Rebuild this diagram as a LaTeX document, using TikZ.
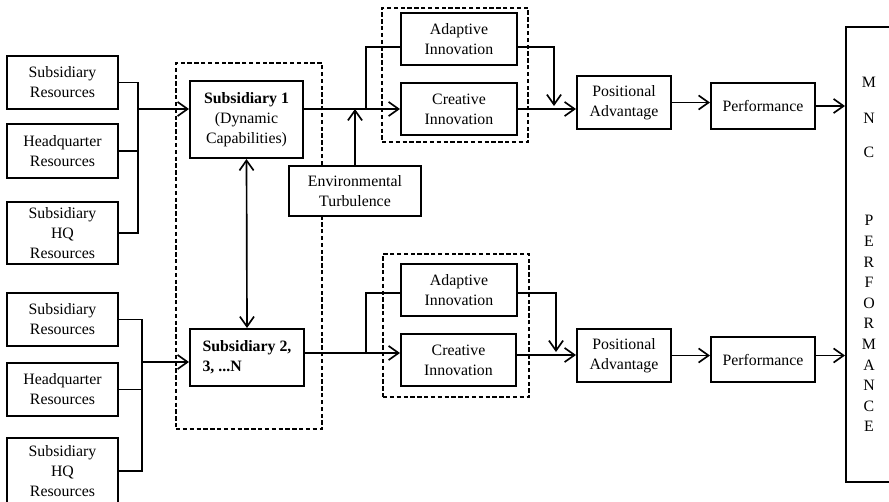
\documentclass[tikz,border=0pt]{standalone}
\usepackage{fontspec}
\setmainfont{Liberation Serif}
\usetikzlibrary{arrows.meta}

% box given by its corners (x1,y1) (x2,y2) in picture units
\newcommand\cornerbox[7][]{%
  \node[#1, minimum width={0.6pt*(#4-#2)}, minimum height={0.6pt*(#5-#3)}]
    (#6) at ({(#2+#4)/2},{(#3+#5)/2}) {#7};}

\tikzset{
  box/.style={draw, fill=white, line width=1.2pt, rectangle, inner sep=1pt, align=center,
    font=\fontsize{9.5}{12}\selectfont},
  grp/.style={draw, line width=0.9pt, dash pattern=on 2.6pt off 1.5pt,
    rectangle, inner sep=0pt},
  link/.style={line width=1pt},
  tip/.tip={Straight Barb[length=6pt,width=8.5pt,line width=1pt]},
  flow/.style={link, -tip},
  both/.style={link, tip-tip},
}

\begin{document}
\begin{tikzpicture}[x=0.6pt, y=-0.6pt]
\useasboundingbox (0,0) rectangle (889,501);
\clip (0,0) rectangle (889,501);

% resource inputs
\cornerbox[box]{7}{56}{118}{109}{sr1}{Subsidiary\\Resources}
\cornerbox[box]{7}{124}{118}{178}{hq1}{Headquarter\\Resources}
\cornerbox[box]{7}{202}{118}{264}{shq1}{Subsidiary\\HQ\\Resources}
\cornerbox[box]{7}{293}{118}{346}{sr2}{Subsidiary\\Resources}
\cornerbox[box]{7}{363}{118}{416}{hq2}{Headquarter\\Resources}
\cornerbox[box]{7}{438}{118}{504}{shq2}{Subsidiary\\HQ\\Resources}

% subsidiaries
\cornerbox[grp]{176}{63}{322}{429}{subgrp}{}
\cornerbox[box]{190}{81}{303}{158}{sub1}{\textbf{Subsidiary 1}\\(Dynamic\\Capabilities)}
\cornerbox[box, align=left]{190}{329}{304}{386}{sub2}{\textbf{Subsidiary 2,}\\\textbf{3, ...N}}
\cornerbox[box]{289}{166}{421}{216}{env}{Environmental\\Turbulence}

% innovation
\cornerbox[grp]{382}{8}{528}{142}{inngrp1}{}
\cornerbox[box]{401}{13}{517}{65}{ada1}{Adaptive\\Innovation}
\cornerbox[box]{401}{83}{517}{135}{cre1}{Creative\\Innovation}
\cornerbox[grp]{383}{254}{529}{397}{inngrp2}{}
\cornerbox[box]{401}{264}{517}{316}{ada2}{Adaptive\\Innovation}
\cornerbox[box]{401}{334}{516}{386}{cre2}{Creative\\Innovation}

% outcomes
\cornerbox[box]{577}{76}{671}{129}{pa1}{Positional\\Advantage}
\cornerbox[box]{711}{83}{815}{129}{perf1}{Performance}
\cornerbox[box]{577}{329}{671}{382}{pa2}{Positional\\Advantage}
\cornerbox[box]{711}{337}{815}{382}{perf2}{Performance}
\cornerbox[box, font=\fontsize{9.5}{12.36}\selectfont]{846}{27}{892}{482}{mnc}%
  {M\\[9.5pt]N\\[8pt]C\\[28.5pt]P\\E\\R\\F\\O\\R\\M\\A\\N\\C\\E}

% junctions
\coordinate (j1) at (138,109);
\coordinate (j2) at (142,362);
\coordinate (m1) at (366,109);
\coordinate (a1) at (366,47);
\coordinate (t1) at (554,47);
\coordinate (d1) at (554,106);
\coordinate (m2) at (366,353);
\coordinate (a2) at (366,293);
\coordinate (t2) at (556,293);
\coordinate (d2) at (556,352);
\coordinate (c2) at (540,355);

% resources into subsidiaries
\draw[link] (sr1.east) -| (j1);
\draw[link] (hq1.east) -| (j1);
\draw[link] (shq1.east) -| (j1);
\draw[flow] (j1) -- (j1 -| sub1.west);
\draw[link] (sr2.east) -| (j2);
\draw[link] (hq2.east) -| (j2);
\draw[link] (shq2.east) -| (j2);
\draw[flow] (j2) -- (j2 -| sub2.west);
\draw[both] (sub1.south) -- (sub2.north);

% upper chain
\draw[link] (m1 -| sub1.east) -- (m1);
\draw[flow] (m1) -- (m1 -| cre1.west);
\draw[link] (m1) -- (a1) -- (a1 -| ada1.west);
\draw[flow] (env.north) -- (env.north |- m1);
\draw[flow] (t1 -| ada1.east) -- (t1) -- (d1);
\draw[flow] (cre1.east) -- (cre1.east -| pa1.west);
\draw[flow] (pa1.east) -- (pa1.east -| perf1.west);
\draw[flow] (perf1.east) -- (perf1.east -| mnc.west);

% lower chain
\draw[link] (m2 -| sub2.east) -- (m2);
\draw[flow] (m2) -- (m2 -| cre2.west);
\draw[link] (m2) -- (a2) -- (a2 -| ada2.west);
\draw[flow] (t2 -| ada2.east) -- (t2) -- (d2);
\draw[flow] (c2 -| cre2.east) -- (c2 -| pa2.west);
\draw[flow] (pa2.east) -- (pa2.east -| perf2.west);
\draw[flow] (pa2.east -| perf2.east) -- (pa2.east -| mnc.west);
\end{tikzpicture}
\end{document}
